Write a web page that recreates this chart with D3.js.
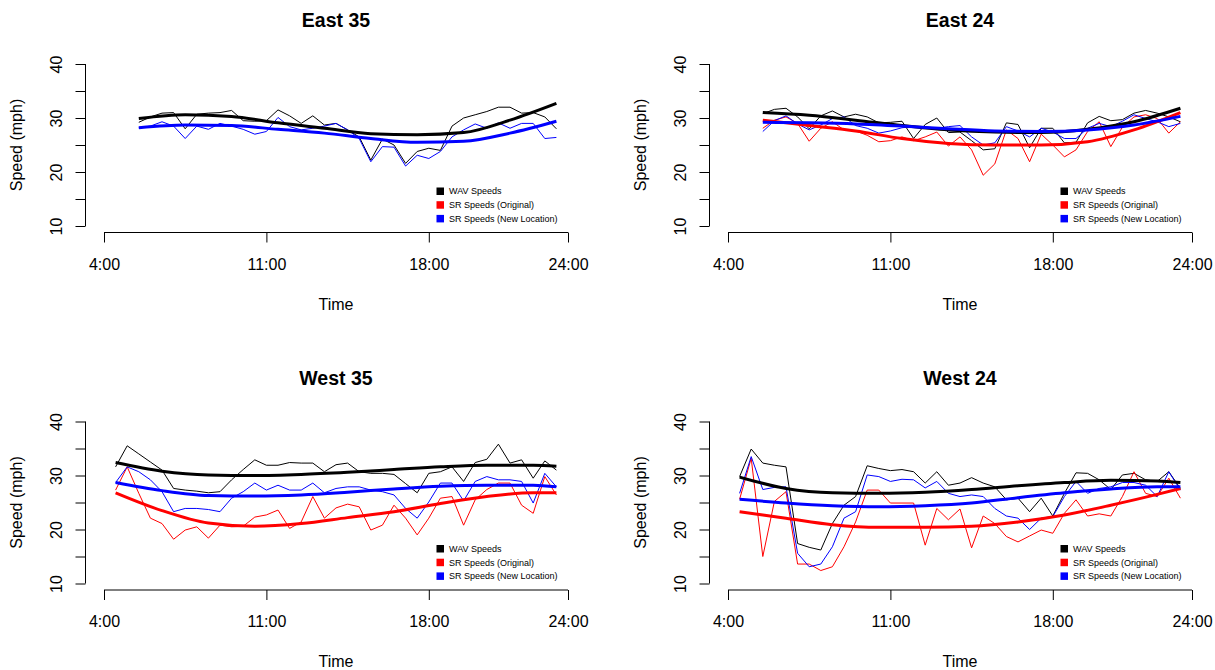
<!DOCTYPE html>
<html>
<head>
<meta charset="utf-8">
<script src="https://cdn.jsdelivr.net/npm/d3@7"></script>
<style>
  body { margin: 0; background: #fff; }
  svg { display: block; font-family: "Liberation Sans", Arial, sans-serif; }
</style>
</head>
<body>
<svg id="chart" width="1215" height="670"></svg>
<script>
// half-hour sample times (hours of the day)
var timesEast = [5.5, 6, 6.5, 7, 7.5, 8, 8.5, 9, 9.5, 10, 10.5, 11, 11.5, 12, 12.5, 13, 13.5, 14, 14.5,
  15, 15.5, 16, 16.5, 17, 17.5, 18, 18.5, 19, 19.5, 20, 20.5, 21, 21.5, 22, 22.5, 23, 23.5];
var timesWest = [4.5, 5, 5.5, 6, 6.5, 7, 7.5, 8, 8.5, 9, 9.5, 10, 10.5, 11, 11.5, 12, 12.5, 13, 13.5, 14, 14.5,
  15, 15.5, 16, 16.5, 17, 17.5, 18, 18.5, 19, 19.5, 20, 20.5, 21, 21.5, 22, 22.5, 23, 23.5];
// times where the smoothed curves were read
var knotsEast = [5.5, 7.5, 9.5, 11.5, 13.5, 15.5, 17.5, 19.5, 21.5, 23.5];
var knotsWest = [4.5, 6.5, 8.5, 10.5, 12.5, 14.5, 16.5, 18.5, 20.5, 22.5, 23.5];

var xTicks = [4, 11, 18, 24];
var yTicks = [10, 15, 20, 25, 30, 35, 40];
var legendLabels = ["WAV Speeds", "SR Speeds (Original)", "SR Speeds (New Location)"];
var legendColors = ["black", "red", "blue"];

// East 35
var east35Wav = [29.2, 30.2, 30.9, 31.0, 28.0, 30.7, 30.9, 31.0, 31.4, 29.5, 29.4, 29.5, 31.5, 30.4, 29.0, 30.4, 28.7, 29.0, 27.8,
  26.5, 22.2, 26.1, 25.0, 21.6, 23.8, 24.4, 24.0, 28.5, 30.0, 30.6, 31.2, 32.0, 32.0, 30.9, 31.0, 30.2, 28.0];
var east35New = [28.2, 28.5, 29.3, 28.5, 26.2, 28.5, 27.9, 29.0, 28.5, 27.9, 27.0, 27.5, 30.1, 28.4, 27.8, 28.1, 28.5, 29.0, 27.8,
  26.2, 21.9, 24.7, 24.6, 21.1, 23.1, 22.5, 23.8, 26.5, 27.8, 28.9, 28.1, 29.1, 28.1, 29.0, 29.0, 26.2, 26.4];
var east35WavFit = [29.9, 30.6, 30.3, 29.1, 28.1, 27.1, 26.9, 27.3, 29.6, 32.7];
var east35NewFit = [28.2, 28.7, 28.6, 27.9, 27.2, 26.2, 25.5, 25.7, 27.2, 29.4];

// East 24
var east24Wav = [30.8, 31.6, 31.8, 30.2, 28.0, 30.4, 31.3, 30.2, 30.7, 30.2, 29.1, 29.2, 29.4, 26.2, 28.8, 30.0, 27.3, 27.4, 25.8,
  24.1, 24.3, 29.1, 28.8, 24.5, 28.1, 28.1, 25.4, 25.5, 29.1, 30.3, 29.5, 29.7, 30.9, 31.4, 30.9, 30.2, 29.3];
var east24Orig = [28.1, 29.6, 30.2, 29.0, 25.7, 28.1, 29.3, 27.8, 27.6, 26.8, 25.6, 25.8, 26.5, 25.8, 26.5, 27.4, 24.8, 26.5, 24.1,
  19.4, 21.5, 27.8, 26.2, 21.9, 27.0, 25.0, 22.8, 24.1, 27.5, 29.3, 24.7, 28.3, 30.2, 30.6, 29.9, 27.2, 29.3];
var east24New = [27.5, 29.5, 30.4, 28.9, 27.8, 28.7, 29.9, 30.2, 28.6, 28.1, 27.2, 27.6, 28.2, 28.4, 28.1, 28.1, 28.4, 28.6, 26.5,
  25.0, 25.4, 28.4, 27.6, 26.5, 28.1, 27.4, 26.2, 26.2, 28.1, 29.0, 28.4, 29.4, 30.6, 29.9, 29.3, 28.4, 29.0];
var east24WavFit = [31.0, 30.5, 29.6, 28.6, 27.8, 27.4, 27.3, 27.9, 29.3, 31.8];
var east24OrigFit = [29.6, 28.6, 27.6, 26.2, 25.3, 25.0, 25.0, 25.6, 27.8, 31.0];
var east24NewFit = [29.2, 29.1, 28.9, 28.5, 28.0, 27.6, 27.5, 27.8, 28.7, 30.3];

// West 35
var west35Wav = [31.6, 35.5, 34.0, 32.5, 31.0, 27.6, 27.3, 27.1, 26.8, 27.0, 29.2, 31.1, 32.9, 31.9, 31.9, 32.4, 32.3, 32.3, 30.7, 32.0,
  32.3, 30.7, 30.4, 30.4, 30.2, 28.5, 26.8, 30.4, 30.7, 31.6, 28.9, 32.4, 33.0, 35.8, 32.3, 32.9, 29.5, 32.7, 31.0];
var west35Orig = [27.3, 31.6, 26.7, 22.1, 21.1, 18.2, 19.9, 20.5, 18.4, 20.8, 20.5, 20.6, 22.3, 22.7, 23.6, 20.2, 21.4, 26.1, 22.1, 24.0,
  24.7, 24.2, 19.9, 20.8, 24.5, 22.1, 19.0, 22.1, 25.8, 26.1, 20.8, 25.5, 27.4, 28.6, 28.6, 24.5, 23.0, 29.8, 26.4];
var west35New = [28.7, 31.6, 30.7, 29.2, 27.0, 23.3, 23.9, 23.9, 23.7, 23.3, 25.8, 27.0, 28.6, 27.3, 28.2, 27.3, 27.3, 28.6, 26.8, 27.6,
  27.9, 27.9, 27.3, 27.0, 26.4, 23.9, 22.1, 25.1, 28.6, 28.6, 25.3, 28.9, 29.8, 29.2, 29.2, 28.9, 24.9, 30.4, 27.9];
var west35WavFit = [32.4, 30.8, 30.1, 30.0, 30.2, 30.6, 31.1, 31.6, 31.9, 31.9, 31.7];
var west35OrigFit = [26.8, 23.5, 21.2, 20.6, 21.1, 22.2, 23.3, 24.8, 26.1, 26.8, 26.8];
var west35NewFit = [28.7, 27.2, 26.3, 26.2, 26.4, 26.9, 27.5, 28.0, 28.2, 28.2, 27.9];

// West 24
var west24Wav = [29.8, 34.9, 32.3, 31.9, 31.6, 17.4, 16.7, 16.2, 21.1, 24.5, 26.1, 31.8, 31.3, 30.9, 31.1, 30.7, 28.6, 30.7, 28.2, 28.6,
  29.6, 28.6, 27.9, 25.5, 25.8, 23.3, 25.8, 22.5, 26.7, 30.5, 30.4, 29.2, 27.4, 30.1, 30.4, 29.2, 28.9, 30.7, 27.6];
var west24Orig = [25.6, 33.2, 15.0, 25.2, 27.0, 13.6, 13.6, 12.4, 13.1, 16.8, 21.4, 27.3, 27.3, 24.9, 24.9, 24.9, 17.1, 23.9, 21.8, 23.8,
  16.6, 22.5, 21.1, 18.7, 17.7, 18.8, 19.9, 19.3, 23.0, 25.5, 22.5, 22.9, 22.5, 26.1, 30.7, 26.7, 26.1, 29.5, 25.8];
var west24New = [26.7, 33.5, 27.4, 27.8, 27.9, 15.6, 13.1, 13.6, 16.8, 22.1, 23.3, 30.1, 29.8, 28.9, 29.3, 29.2, 27.7, 28.9, 26.7, 26.1,
  26.4, 26.1, 23.9, 22.5, 22.1, 20.0, 22.1, 22.4, 26.1, 28.9, 26.7, 27.6, 27.9, 28.7, 28.7, 28.2, 26.1, 30.7, 27.3];
var west24WavFit = [29.7, 27.6, 26.8, 26.7, 26.9, 27.4, 28.1, 28.7, 29.1, 29.0, 28.7];
var west24OrigFit = [23.3, 22.1, 20.9, 20.4, 20.4, 20.6, 21.4, 22.7, 24.5, 26.5, 27.6];
var west24NewFit = [25.6, 24.9, 24.4, 24.2, 24.4, 24.9, 25.9, 26.8, 27.5, 27.9, 27.9];

var panels = [
  { title: "East 35", col: 0, row: 0, times: timesEast, knots: knotsEast, series: [
    { color: "black", raw: east35Wav, fit: east35WavFit },
    { color: "blue", raw: east35New, fit: east35NewFit }] },
  { title: "East 24", col: 1, row: 0, times: timesEast, knots: knotsEast, series: [
    { color: "black", raw: east24Wav, fit: east24WavFit },
    { color: "red", raw: east24Orig, fit: east24OrigFit },
    { color: "blue", raw: east24New, fit: east24NewFit }] },
  { title: "West 35", col: 0, row: 1, times: timesWest, knots: knotsWest, series: [
    { color: "black", raw: west35Wav, fit: west35WavFit },
    { color: "red", raw: west35Orig, fit: west35OrigFit },
    { color: "blue", raw: west35New, fit: west35NewFit }] },
  { title: "West 24", col: 1, row: 1, times: timesWest, knots: knotsWest, series: [
    { color: "black", raw: west24Wav, fit: west24WavFit },
    { color: "red", raw: west24Orig, fit: west24OrigFit },
    { color: "blue", raw: west24New, fit: west24NewFit }] }
];

var svg = d3.select("#chart");
var colStep = 624, rowStep = 357.5;

panels.forEach(function (p) {
  var g = svg.append("g").attr("transform", "translate(" + (p.col * colStep) + "," + (p.row * rowStep) + ")");
  var x = d3.scaleLinear().domain([4, 24]).range([104, 568]);
  var y = d3.scaleLinear().domain([10, 40]).range([226, 64]);
  var plotMid = (x.invert(85.4) + x.invert(586.6)) / 2;

  // title
  g.append("text").text(p.title)
    .attr("x", x(plotMid)).attr("y", 27)
    .attr("text-anchor", "middle").attr("font-weight", "bold").attr("font-size", 19.5);

  // x axis
  var xg = g.append("g").attr("transform", "translate(0,232.5)")
    .call(d3.axisBottom(x).tickValues(xTicks).tickSize(10).tickSizeOuter(0)
      .tickFormat(function (d) { return d + ":00"; }));
  xg.select(".domain").remove();
  xg.append("line").attr("x1", x(xTicks[0])).attr("x2", x(xTicks[xTicks.length - 1]))
    .attr("stroke", "black");
  xg.selectAll("text").attr("y", 37).attr("dy", 0)
    .attr("font-size", 16).attr("font-family", "Liberation Sans, Arial, sans-serif").attr("fill", "black");
  xg.selectAll(".tick line").attr("stroke", "black");

  // y axis
  var yg = g.append("g").attr("transform", "translate(85.5,0)")
    .call(d3.axisLeft(y).tickValues(yTicks).tickSize(10).tickSizeOuter(0)
      .tickFormat(function (d) { return d % 10 === 0 ? d : ""; }));
  yg.select(".domain").remove();
  yg.append("line").attr("y1", y(yTicks[0])).attr("y2", y(yTicks[yTicks.length - 1]))
    .attr("stroke", "black");
  yg.selectAll("text").attr("x", 0).attr("dy", 0).attr("text-anchor", "middle")
    .attr("transform", "translate(-23.5,0) rotate(-90)")
    .attr("font-size", 16).attr("font-family", "Liberation Sans, Arial, sans-serif").attr("fill", "black");
  yg.selectAll(".tick line").attr("stroke", "black");

  // axis titles
  g.append("text").text("Time")
    .attr("x", x(plotMid)).attr("y", 309.5)
    .attr("text-anchor", "middle").attr("font-size", 16);
  g.append("text").text("Speed (mph)")
    .attr("transform", "translate(21.6," + y(25) + ") rotate(-90)")
    .attr("text-anchor", "middle").attr("font-size", 16);

  // raw speed lines
  p.series.forEach(function (s) {
    var line = d3.line()
      .x(function (d, i) { return x(p.times[i]); })
      .y(function (d) { return y(d); });
    g.append("path").datum(s.raw)
      .attr("d", line).attr("fill", "none")
      .attr("stroke", s.color).attr("stroke-width", 1);
  });

  // smoothed lines
  p.series.forEach(function (s) {
    var line = d3.line()
      .x(function (d, i) { return x(p.knots[i]); })
      .y(function (d) { return y(d); })
      .curve(d3.curveMonotoneX);
    g.append("path").datum(s.fit)
      .attr("d", line).attr("fill", "none")
      .attr("stroke", s.color).attr("stroke-width", 3);
  });

  // legend
  var lg = g.append("g").attr("transform", "translate(436.5,187.5)");
  legendLabels.forEach(function (lab, i) {
    lg.append("rect").attr("x", 0).attr("y", i * 13.7)
      .attr("width", 7.5).attr("height", 7.5).attr("fill", legendColors[i]);
    lg.append("text").text(lab)
      .attr("x", 12.5).attr("y", i * 13.7 + 3.75).attr("dy", "0.35em")
      .attr("font-size", 9).attr("fill", "black");
  });
});
</script>
</body>
</html>
